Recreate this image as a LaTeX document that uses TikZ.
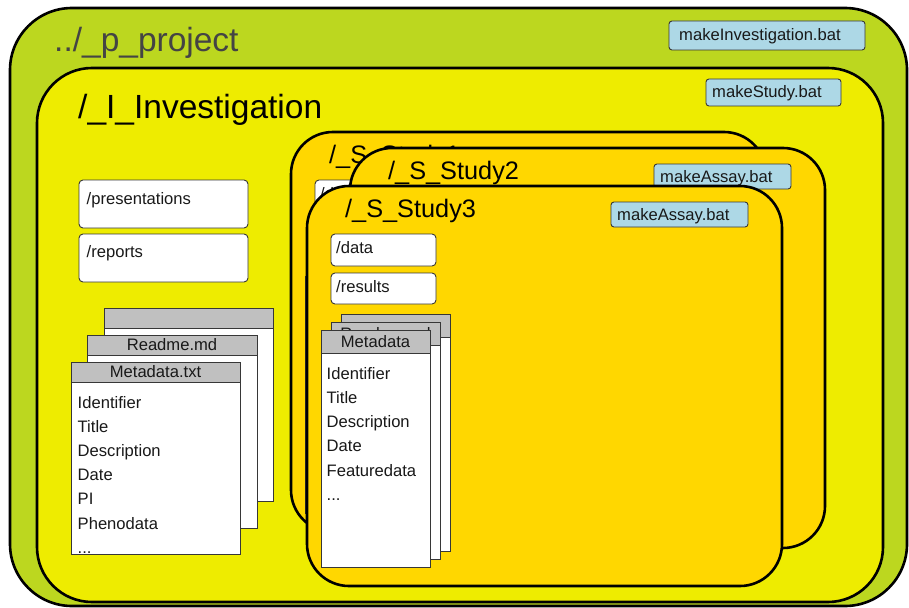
\documentclass[tikz,border=0pt]{standalone}
\usepackage{fontspec}
\setmainfont{Liberation Sans}
\definecolor{projgreen}{RGB}{188,215,31}
\definecolor{invyellow}{RGB}{238,236,0}
\definecolor{studygold}{RGB}{255,215,0}
\definecolor{batblue}{RGB}{173,216,230}
\definecolor{hdrgray}{RGB}{192,192,192}
\definecolor{edgegray}{RGB}{55,55,55}
\definecolor{titlegray}{RGB}{68,68,68}
\tikzset{
  bigframe/.style={draw=black, line width=2.6pt, anchor=north west, inner sep=0pt, outer sep=0pt},
  batbox/.style={draw=edgegray, line width=0.9pt, fill=batblue, rounded corners=3pt, anchor=north west, inner sep=0pt, outer sep=0pt},
  folderbox/.style={draw=edgegray, line width=0.9pt, fill=white, rounded corners=4pt, anchor=north west, inner sep=0pt, outer sep=0pt},
  docpage/.style={draw=edgegray, line width=0.9pt, fill=white, anchor=north west, inner sep=0pt, outer sep=0pt},
  dochead/.style={draw=edgegray, line width=0.9pt, fill=hdrgray, anchor=north west, inner sep=0pt, outer sep=0pt},
  smalltext/.style={font=\fontsize{16.6}{20}\selectfont, inner sep=0pt, anchor=base west, text=black!90},
  headtext/.style={font=\fontsize{16.6}{20}\selectfont, inner sep=0pt, anchor=center, text=black!90},
  bigtitle/.style={font=\fontsize{33.5}{40}\selectfont, inner sep=0pt, anchor=base west},
  studytitle/.style={font=\fontsize{25.3}{30}\selectfont, inner sep=0pt, anchor=base west},
  studyframe/.style={bigframe, fill=studygold, rounded corners=42pt, minimum width=475pt, minimum height=400pt},
}
% name, x, y, width, height, header height, header text
\newcommand\docsheet[7]{%
  \node[docpage, minimum width=#4pt, minimum height=#5pt] (#1) at (#2,#3) {};
  \node[dochead, minimum width=#4pt, minimum height=#6pt] (#1h) at (#2,#3) {};
  \node[headtext] (#1t) at (#1h.center) {#7};
}
\begin{document}
\begin{tikzpicture}[x=1pt, y=-1pt]
  \useasboundingbox (0,0) rectangle (909,607);
  \fill[white] (0,0) rectangle (909,607);
  % project
  \node[bigframe, fill=projgreen, rounded corners=62pt, minimum width=897pt, minimum height=598pt] (proj) at (10,8) {};
  \node[bigtitle, text=titlegray] (projtitle) at (54,52) {../\_p\_project};
  \node[batbox, minimum width=196pt, minimum height=29pt] (mkinv) at (669,21) {};
  \node[smalltext] (mkinvtext) at (679,41) {makeInvestigation.bat};
  % investigation
  \node[bigframe, fill=invyellow, rounded corners=55pt, minimum width=846pt, minimum height=534pt] (inv) at (37,68) {};
  \node[bigtitle, text=black] (invtitle) at (78,118) {/\_I\_Investigation};
  \node[batbox, minimum width=135pt, minimum height=27pt] (mkstudy) at (706,79) {};
  \node[smalltext] (mkstudytext) at (712,98) {makeStudy.bat};
  \node[folderbox, minimum width=169pt, minimum height=48pt] (pres) at (79,180) {};
  \node[smalltext] (prestext) at (86.5,204.5) {/presentations};
  \node[folderbox, minimum width=169pt, minimum height=48pt] (rep) at (79,234) {};
  \node[smalltext] (reptext) at (86.5,257.5) {/reports};
  \docsheet{invdocc}{104}{308}{169}{193}{20}{}
  \docsheet{invdocb}{87}{335}{170}{193}{20}{Readme.md}
  \docsheet{invdoca}{71}{362}{169}{192}{20}{Metadata.txt}
  \foreach \t [count=\i] in {Identifier,Title,Description,Date,PI,Phenodata}
    \node[smalltext] (invline\i) at ({77.5},{408+24.2*(\i-1)}) {\t};
  \node[smalltext] (invdots) at ({77.5},{408+24.2*6}) {...};
  % study 1 (mostly hidden)
  \begin{scope}[shift={(291,132)}]
    \node[studyframe] (sa) at (0,0) {};
    \node[studytitle] (satitle) at (38,31) {/\_S\_Study1};
    \node[folderbox, minimum width=105pt, minimum height=32pt] (sadata) at (24,48) {};
    \node[smalltext] (sadatatext) at (29,67) {/data};
    \node[docpage, minimum width=109pt, minimum height=237pt] (sadoc) at (14,144) {};
  \end{scope}
  % study 2 (mostly hidden)
  \begin{scope}[shift={(350,148)}]
    \node[studyframe] (sb) at (0,0) {};
    \node[studytitle] (sbtitle) at (38,31) {/\_S\_Study2};
    \node[batbox, minimum width=137pt, minimum height=25pt] (sbbat) at (304,16) {};
    \node[smalltext] (sbbattext) at (310,34) {makeAssay.bat};
  \end{scope}
  % study 3
  \begin{scope}[shift={(307,186)}]
    \node[studyframe] (sc) at (0,0) {};
    \node[studytitle] (sctitle) at (38,31) {/\_S\_Study3};
    \node[batbox, minimum width=137pt, minimum height=25pt] (scbat) at (304,16) {};
    \node[smalltext] (scbattext) at (310,34) {makeAssay.bat};
    \node[folderbox, minimum width=105pt, minimum height=32pt] (scdata) at (24,48) {};
    \node[smalltext] (scdatatext) at (29,67) {/data};
    \node[folderbox, minimum width=105pt, minimum height=31pt] (scres) at (24,87) {};
    \node[smalltext] (screstext) at (29,106) {/results};
    \docsheet{scdocc}{34}{128}{109}{237}{23}{}
    \docsheet{scdocb}{24}{136}{109}{237}{23}{Readme.md}
    \docsheet{scdoca}{14}{144}{109}{237}{23}{Metadata}
    \foreach \t [count=\i] in {Identifier,Title,Description,Date,Featuredata}
      \node[smalltext] (scline\i) at ({19.5},{193+24.3*(\i-1)}) {\t};
    \node[smalltext] (scdots) at ({19.5},{193+24.3*5}) {...};
  \end{scope}
\end{tikzpicture}
\end{document}
